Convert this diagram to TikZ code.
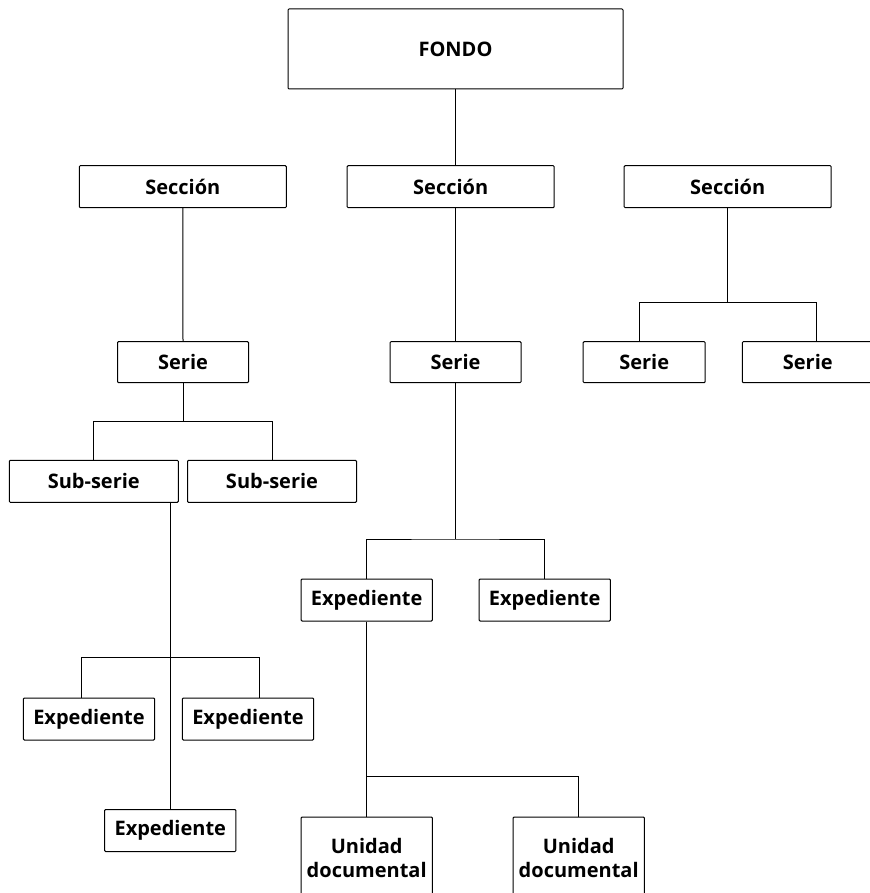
\documentclass[tikz,border=0pt]{standalone}
\usepackage{fontspec}
\setmainfont{Open Sans}
\begin{document}
\begin{tikzpicture}[x=1pt, y=-1pt]
            \tikzset{caja/.style={draw, line width=1pt, rounded corners=1pt, inner sep=0pt, align=center,
                font=\bfseries\fontsize{20}{23.5}\selectfont, minimum height=42}}
            \useasboundingbox (0, 0) rectangle (869, 893);
            \node[caja, minimum width=335, minimum height=80] (fondo) at (455.5, 49) {FONDO};
            \node[caja, minimum width=207] (secL) at (182.8, 186.7) {Sección};
            \node[caja, minimum width=207] (secM) at (450.7, 186.7) {Sección};
            \node[caja, minimum width=207] (secR) at (727.7, 186.7) {Sección};
            \node[caja, minimum width=131, minimum height=41] (serL) at (183, 362.2) {Serie};
            \node[caja, minimum width=131, minimum height=41] (serM) at (455.5, 362.2) {Serie};
            \node[caja, minimum width=122, minimum height=41] (serR1) at (644.2, 362.2) {Serie};
            \node[caja, minimum width=131, minimum height=41] (serR2) at (807.8, 362.2) {Serie};
            \node[caja, minimum width=169] (subL1) at (93.8, 481.3) {Sub-serie};
            \node[caja, minimum width=169] (subL2) at (272, 481.3) {Sub-serie};
            \node[caja, minimum width=131.3] (expM1) at (366.7, 600) {Expediente};
            \node[caja, minimum width=131.3] (expM2) at (544.7, 600) {Expediente};
            \node[caja, minimum width=131.3] (expL1) at (89, 719) {Expediente};
            \node[caja, minimum width=131.3] (expL2) at (248, 719) {Expediente};
            \node[caja, minimum width=131.3] (expB) at (170.3, 830.5) {Expediente};
            \node[caja, minimum width=131.3, minimum height=82] (uni1) at (366.7, 858) {Unidad\\documental};
            \node[caja, minimum width=131.3, minimum height=82] (uni2) at (578.7, 858) {Unidad\\documental};
            \coordinate (barSub) at (183, 421.3);
            \coordinate (barExpL1) at (81, 657.7);
            \coordinate (barExpL2) at (259.3, 657.7);
            \coordinate (barExpM) at (455.5, 539);
            \coordinate (barUni) at (366.7, 776);
            \coordinate (barSerR1) at (639.3, 302.3);
            \coordinate (barSerR2) at (816.7, 302.3);
            \begin{scope}[line width=1pt]
                \draw (fondo.south) -- (fondo.south |- secM.north);
                \draw (secL.south) -- (serL.north);
                \draw (serL.south) -- (barSub);
                \draw (subL1.north) |- (barSub) -| (subL2.north);
                \draw (subL1.south -| expB.north) -- (expB.north);
                \draw (expL1.north -| barExpL1) -- (barExpL1) -- (barExpL2) -- (expL2.north -| barExpL2);
                \draw (serM.north |- secM.south) -- (serM.north);
                \draw (serM.south) -- (barExpM);
                \draw (expM1.north) |- (barExpM) -| (expM2.north);
                \draw (expM1.south) -- (uni1.north);
                \draw (barUni) -| (uni2.north);
                \draw (secR.south) -- (secR.south |- barSerR1);
                \draw (serR1.north -| barSerR1) -- (barSerR1) -- (barSerR2) -- (serR2.north -| barSerR2);
            \end{scope}
        \end{tikzpicture}
\end{document}
